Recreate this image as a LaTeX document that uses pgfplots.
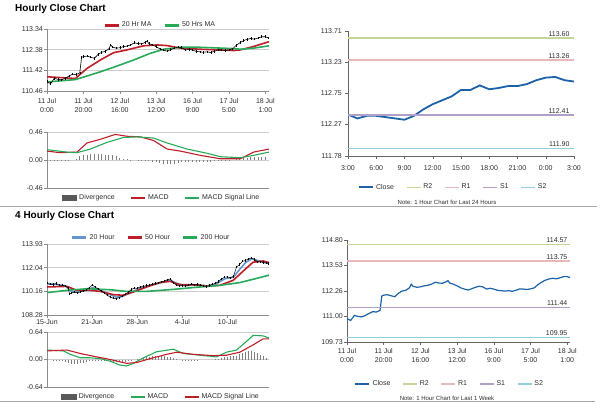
\documentclass[border=0pt]{standalone}
\usepackage{pgfplots}
\pgfplotsset{compat=1.18}
\usepackage{pgfplotstable}
\usepackage{fontspec}
\setmainfont{Liberation Sans}

\definecolor{mared}{RGB}{190,30,40}
\definecolor{magreen}{RGB}{40,170,90}
\definecolor{lblue}{RGB}{100,150,205}
\definecolor{cblue}{RGB}{28,98,168}
\definecolor{rtwo}{RGB}{196,214,150}
\definecolor{rone}{RGB}{232,184,186}
\definecolor{sone}{RGB}{176,160,200}
\definecolor{stwo}{RGB}{146,205,222}
\definecolor{gridc}{RGB}{205,205,205}
\definecolor{axc}{RGB}{140,140,140}
\definecolor{txt}{RGB}{45,45,45}

\newcommand{\fs}{\fontsize{7}{9}\selectfont}
\newcommand{\fn}{\fontsize{6}{7}\selectfont}

\pgfplotstableread{
x y
0 110.89
2 110.80
4 111.05
6 111.00
8 110.98
10 111.05
12 111.15
14 111.24
16 111.22
18 111.30
19 112.02
20 112.06
22 112.08
24 112.03
26 111.98
28 112.15
30 112.26
32 112.30
34 112.42
35 112.60
36 112.50
38 112.45
40 112.47
42 112.52
44 112.55
46 112.60
48 112.70
50 112.66
52 112.65
54 112.72
55 112.78
56 112.66
58 112.60
60 112.52
62 112.42
64 112.36
66 112.31
68 112.38
70 112.45
72 112.50
74 112.47
76 112.36
78 112.40
80 112.36
82 112.30
84 112.28
86 112.26
88 112.28
90 112.25
92 112.30
94 112.37
96 112.36
98 112.34
100 112.37
102 112.42
104 112.58
106 112.70
108 112.80
110 112.86
112 112.90
114 112.87
116 112.92
118 112.98
120 112.98
121.5 112.93
}\hourly

\pgfplotsset{
  base/.style={
    scale only axis, anchor=south west, enlargelimits=false,
    clip mode=individual,
    axis lines*=left,
    axis line style={-, draw=axc, line width=0.5pt},
    tick style={draw=axc, line width=0.5pt},
    major tick length=3pt, tick align=outside,
    ticklabel style={font=\fs, text=txt},
    yticklabel style={inner sep=1pt},
    xticklabel style={align=center, inner sep=1.5pt},
    grid style={draw=gridc, line width=0.5pt},
    legend style={font=\fs, text=txt, draw=none, fill=none, legend columns=-1,
      inner sep=0pt, /tikz/every even column/.append style={column sep=10pt}},
    legend image code/.code={\draw[##1] (0pt,0pt) -- (14pt,0pt);},
  },
}

\begin{document}
\begin{tikzpicture}
\path[use as bounding box] (0pt,0pt) rectangle (600pt,413pt);

% titles and separators
\node[anchor=west, inner sep=0pt, font=\bfseries\fontsize{10}{12}\selectfont] at (15pt,404.5pt) {Hourly Close Chart};
\node[anchor=west, inner sep=0pt, font=\bfseries\fontsize{10}{12}\selectfont] at (15pt,197pt) {4 Hourly Close Chart};
\draw[gray!70, line width=0.6pt] (0pt,206.5pt) -- (597pt,206.5pt);
\draw[gray!70, line width=0.6pt] (0pt,12pt) -- (595pt,12pt);

% ---------- Top-left: hourly price ----------
\begin{axis}[base, at={(47pt,322pt)}, width=222pt, height=62pt,
  xmin=0, xmax=122, ymin=110.46, ymax=113.34,
  ytick={110.46,111.42,112.38,113.34}, yticklabels={110.46,111.42,112.38,113.34},
  ymajorgrids,
  xtick={0,20,40,60,80,100,120},
  xticklabel style={yshift=-3pt},
  xticklabels={{11 Jul\\0:00},{11 Jul\\20:00},{12 Jul\\16:00},{13 Jul\\12:00},{16 Jul\\9:00},{17 Jul\\5:00},{18 Jul\\1:00}},
  legend image post style={line width=2.6pt},
  legend style={at={(0.51,1.06)}, anchor=center}]
\addplot[mared, line width=1.6pt] coordinates {(0,111.12) (8,111.08) (15.6,111.04) (22,111.51) (29.3,111.90) (36.6,112.24) (44,112.37) (53.1,112.56) (60.5,112.60) (66,112.57) (73.3,112.45) (84.3,112.40) (93.4,112.37) (102.6,112.34) (106.3,112.37) (113.6,112.53) (122,112.75)};
\addlegendentry{20 Hr MA}
\addplot[magreen, line width=1.6pt] coordinates {(0,110.88) (15.6,110.99) (29.3,111.35) (38.5,111.62) (47.6,111.90) (56.8,112.21) (64.1,112.40) (73.3,112.49) (84.3,112.49) (102.6,112.43) (106.3,112.40) (113.6,112.45) (122,112.56)};
\addlegendentry{50 Hrs MA}
\addplot[black, line width=0.6pt, forget plot, error bars/.cd, y dir=both, y fixed=0.06, error mark=none, error bar style={line width=0.5pt}] table[x=x,y=y] {\hourly};
\end{axis}

% ---------- Top-left: MACD ----------
\begin{axis}[base, at={(47pt,225pt)}, width=222pt, height=56pt,
  xmin=0, xmax=122, ymin=-0.46, ymax=0.46,
  ytick={-0.46,0,0.46}, yticklabels={-0.46,0.00,0.46},
  ymajorgrids, xtick=\empty,
  legend image post style={line width=1.4pt},
  legend style={at={(0.516,-0.18)}, anchor=center, /tikz/every even column/.append style={column sep=14pt}}]
\addplot[ycomb, draw=black!50, line width=0.9pt, legend image code/.code={\fill[black!65] (0pt,-2.5pt) rectangle (14pt,2.5pt);}] coordinates {
(0,-0.02) (2,-0.02) (4,-0.015) (6,-0.015) (8,-0.01) (10,-0.01) (12,-0.005) (14,0) (16,0.02) (18,0.06) (20,0.08) (22,0.09) (24,0.10) (26,0.10) (28,0.10) (30,0.10) (32,0.09) (34,0.09) (36,0.08) (38,0.06) (40,0.04) (42,0.02) (44,0.01) (46,0.005) (48,0) (50,-0.005) (52,-0.01) (54,-0.01) (56,-0.02) (58,-0.03) (60,-0.04) (62,-0.05) (64,-0.06) (66,-0.07) (68,-0.07) (70,-0.06) (72,-0.05) (74,-0.04) (76,-0.035) (78,-0.03) (80,-0.03) (82,-0.03) (84,-0.03) (86,-0.03) (88,-0.03) (90,-0.025) (92,-0.02) (94,-0.02) (96,-0.015) (98,-0.01) (100,-0.005) (102,0) (104,0.01) (106,0.02) (108,0.03) (110,0.04) (112,0.045) (114,0.05) (116,0.05) (118,0.05) (120,0.05) (122,0.045)};
\addlegendentry{Divergence}
\addplot[mared, line width=1.1pt] coordinates {(0,0.146) (7.3,0.12) (16.5,0.13) (22,0.28) (29.3,0.34) (37.5,0.42) (44,0.39) (51.3,0.38) (58.6,0.32) (66,0.18) (73.3,0.146) (84.3,0.076) (95.3,0.02) (106.3,0.02) (113.6,0.13) (122,0.18)};
\addlegendentry{MACD}
\addplot[magreen, line width=1.1pt] coordinates {(0,0.17) (11,0.13) (16.5,0.12) (23.8,0.18) (33,0.29) (42,0.37) (49.5,0.38) (58.6,0.36) (66,0.28) (77,0.18) (88,0.11) (95.3,0.054) (106.3,0.038) (113.6,0.076) (122,0.13)};
\addlegendentry{MACD Signal Line}
\end{axis}

% ---------- Top-right: 24 hours ----------
\begin{axis}[base, at={(348pt,257pt)}, width=226pt, height=125pt,
  xmin=0, xmax=24, ymin=111.78, ymax=113.71,
  axis line style={-, draw=black!60}, tick style={draw=black!60},
  ytick={111.78,112.27,112.75,113.23,113.71}, yticklabels={111.78,112.27,112.75,113.23,113.71},
  yticklabel style={xshift=-2pt},
  xtick={0,3,...,24}, xticklabels={3:00,6:00,9:00,12:00,15:00,18:00,21:00,0:00,3:00},
  xticklabel style={yshift=-5pt},
  legend style={at={(0.465,-0.25)}, anchor=center}]
\addplot[cblue, line width=1.8pt, legend image post style={line width=2.4pt}] coordinates {(0,112.42) (1,112.36) (2,112.40) (3,112.40) (4,112.38) (5,112.36) (6,112.34) (7,112.40) (8,112.50) (9,112.58) (10,112.64) (11,112.70) (12,112.80) (13,112.80) (14,112.87) (15,112.81) (16,112.83) (17,112.86) (18,112.86) (19,112.89) (20,112.95) (21,112.99) (22,113.00) (23,112.95) (24,112.93)};
\addlegendentry{Close}
\addplot[rtwo, line width=1.4pt] coordinates {(0,113.60) (24,113.60)};
\addlegendentry{R2}
\addplot[rone, line width=1.4pt] coordinates {(0,113.26) (24,113.26)};
\addlegendentry{R1}
\addplot[sone, line width=1.4pt] coordinates {(0,112.41) (24,112.41)};
\addlegendentry{S1}
\addplot[stwo, line width=1.4pt] coordinates {(0,111.90) (24,111.90)};
\addlegendentry{S2}
\node[anchor=south east, font=\fs, text=txt, inner sep=1.5pt] at (axis cs:23.7,113.60) {113.60};
\node[anchor=south east, font=\fs, text=txt, inner sep=1.5pt] at (axis cs:23.7,113.26) {113.26};
\node[anchor=south east, font=\fs, text=txt, inner sep=1.5pt] at (axis cs:23.7,112.41) {112.41};
\node[anchor=south east, font=\fs, text=txt, inner sep=1.5pt] at (axis cs:23.7,111.90) {111.90};
\end{axis}
\node[font=\fn, text=txt] at (447pt,211pt) {Note: 1 Hour Chart for Last 24 Hours};

% ---------- Bottom-left: 4 hourly price ----------
\begin{axis}[base, at={(47pt,98pt)}, width=222pt, height=71pt,
  xmin=0, xmax=147.6, ymin=108.28, ymax=113.93,
  ytick={108.28,110.16,112.04,113.93}, yticklabels={108.28,110.16,112.04,113.93},
  ymajorgrids,
  xtick={0,30,60,90,120}, xticklabels={15-Jun,21-Jun,28-Jun,4-Jul,10-Jul},
  legend image post style={line width=2.6pt},
  legend style={at={(0.47,1.09)}, anchor=center}]
\addplot[lblue, line width=1.6pt] coordinates {(0,110.78) (6,110.72) (12,110.60) (16,110.20) (20,110.10) (26,110.25) (30,110.45) (34,110.35) (40,110.00) (46,109.70) (50,109.75) (56,110.10) (62,110.40) (70,110.68) (78,110.92) (82,111.05) (86,110.80) (92,110.62) (100,110.68) (106,110.60) (112,110.72) (118,111.15) (124,111.30) (128,111.90) (132,112.45) (136,112.75) (140,112.62) (144,112.48) (147,112.42)};
\addlegendentry{20 Hour}
\addplot[mared, line width=1.6pt] coordinates {(0,110.51) (13.3,110.56) (19.9,110.24) (28.7,110.24) (35.4,110.16) (44.2,109.90) (50.8,109.85) (57.5,110.11) (66.3,110.51) (75.1,110.86) (81.8,110.96) (88.4,110.69) (97.2,110.69) (106.1,110.59) (114.9,110.64) (123.8,111.04) (130.4,111.77) (137,112.48) (143.7,112.58) (147.6,112.45)};
\addlegendentry{50 Hour}
\addplot[magreen, line width=1.6pt] coordinates {(0,110.06) (13.3,110.24) (26.5,110.37) (42,110.29) (53,110.16) (66.3,110.16) (84,110.32) (101.7,110.51) (114.9,110.64) (128.2,110.86) (137,111.12) (147.6,111.45)};
\addlegendentry{200 Hour}
\addplot[black, line width=0.5pt, forget plot, error bars/.cd, y dir=both, y fixed=0.09, error mark=none, error bar style={line width=0.5pt}] coordinates {
(0,110.80) (2,110.72) (4,110.70) (6,110.78) (8,110.66) (10,110.64) (12,110.60) (14,110.45) (15,109.95) (16,110.02) (18,110.10) (20,110.05) (22,110.12) (24,110.20) (26,110.28) (28,110.45) (30,110.68) (32,110.50) (34,110.34) (36,110.20) (38,110.05) (40,109.85) (42,109.72) (44,109.62) (46,109.58) (48,109.66) (50,109.80) (52,109.95) (54,110.08) (56,110.30) (58,110.42) (60,110.40) (62,110.52) (64,110.55) (66,110.62) (68,110.66) (70,110.72) (72,110.78) (74,110.85) (76,110.92) (78,110.98) (80,111.08) (82,111.15) (84,110.85) (86,110.66) (88,110.60) (90,110.62) (92,110.58) (94,110.66) (96,110.72) (98,110.68) (100,110.70) (102,110.64) (104,110.58) (106,110.55) (108,110.62) (110,110.72) (112,110.80) (114,110.95) (116,111.15) (118,111.28) (120,111.32) (122,111.25) (124,111.35) (126,112.10) (128,112.30) (130,112.55) (132,112.62) (134,112.75) (136,112.82) (138,112.70) (140,112.50) (142,112.52) (144,112.45) (146,112.40) (147,112.38)};
\end{axis}

% ---------- Bottom-left: MACD ----------
\begin{axis}[base, at={(47pt,26pt)}, width=222pt, height=55pt,
  xmin=0, xmax=147.6, ymin=-0.64, ymax=0.64,
  ytick={-0.64,0,0.64}, yticklabels={-0.64,0.00,0.64},
  ymajorgrids, xtick=\empty,
  legend image post style={line width=1.4pt},
  legend style={at={(0.514,-0.18)}, anchor=center, /tikz/every even column/.append style={column sep=14pt}}]
\addplot[ycomb, draw=black!50, line width=0.9pt, legend image code/.code={\fill[black!65] (0pt,-2.5pt) rectangle (14pt,2.5pt);}] coordinates {
(0,0.01) (2,0.0) (4,-0.01) (6,-0.01) (8,-0.01) (10,-0.02) (12,-0.05) (14,-0.08) (16,-0.10) (18,-0.10) (20,-0.10) (22,-0.09) (24,-0.07) (26,-0.05) (28,-0.03) (30,-0.02) (32,-0.02) (34,-0.02) (36,-0.02) (38,-0.03) (40,-0.04) (42,-0.04) (44,-0.05) (46,-0.06) (48,-0.06) (50,-0.06) (52,-0.05) (54,-0.03) (56,-0.01) (58,0.0) (60,0.01) (62,0.02) (64,0.03) (66,0.05) (68,0.06) (70,0.07) (72,0.08) (74,0.08) (76,0.08) (78,0.07) (80,0.06) (82,0.05) (84,0.04) (86,0.02) (88,0.0) (90,-0.01) (92,-0.01) (94,-0.01) (96,-0.01) (98,-0.01) (100,-0.01) (102,0.0) (104,0.0) (106,0.0) (108,0.0) (110,0.0) (112,0.01) (114,0.02) (116,0.03) (118,0.05) (120,0.06) (122,0.07) (124,0.08) (126,0.09) (128,0.12) (130,0.15) (132,0.18) (134,0.20) (136,0.20) (138,0.18) (140,0.14) (142,0.10) (144,0.07) (146,0.04)};
\addlegendentry{Divergence}
\addplot[magreen, line width=1.1pt] coordinates {(0,0.22) (11,0.20) (15.5,0.12) (22.1,0.04) (28.7,0.04) (35.4,0.02) (42,-0.04) (48.6,-0.13) (53,-0.15) (57.5,-0.09) (64.1,0.04) (72.9,0.18) (84,0.24) (90.6,0.14) (101.7,0.10) (112.7,0.06) (119.3,0.17) (126,0.22) (132.6,0.42) (137,0.56) (143.7,0.55) (147.6,0.50)};
\addlegendentry{MACD}
\addplot[mared, line width=1.1pt] coordinates {(0,0.20) (13.3,0.22) (22.1,0.14) (33.2,0.06) (42,0.0) (53,-0.09) (59.7,-0.07) (68.5,0.02) (79.6,0.12) (86.2,0.17) (97.2,0.12) (110.5,0.09) (119.3,0.10) (128.2,0.17) (137,0.34) (143.7,0.48) (147.6,0.48)};
\addlegendentry{MACD Signal Line}
\end{axis}

% ---------- Bottom-right: 1 week ----------
\begin{axis}[base, at={(347pt,71pt)}, width=223pt, height=102pt,
  xmin=0, xmax=121.5, ymin=109.73, ymax=114.80,
  axis line style={-, draw=black!60}, tick style={draw=black!60},
  ytick={109.73,111.00,112.26,113.53,114.80}, yticklabels={109.73,111.00,112.26,113.53,114.80},
  xtick={0,20,40,60,80,100,120},
  xticklabel style={yshift=-2pt},
  xticklabels={{11 Jul\\0:00},{11 Jul\\20:00},{12 Jul\\16:00},{13 Jul\\12:00},{16 Jul\\9:00},{17 Jul\\5:00},{18 Jul\\1:00}},
  legend style={at={(0.46,-0.41)}, anchor=center}]
\addplot[cblue, line width=1.2pt, legend image post style={line width=2.4pt}] table[x=x,y=y] {\hourly};
\addlegendentry{Close}
\addplot[rtwo, line width=1.4pt] coordinates {(0,114.57) (121.5,114.57)};
\addlegendentry{R2}
\addplot[rone, line width=1.4pt] coordinates {(0,113.75) (121.5,113.75)};
\addlegendentry{R1}
\addplot[sone, line width=1.4pt] coordinates {(0,111.44) (121.5,111.44)};
\addlegendentry{S1}
\addplot[stwo, line width=1.4pt] coordinates {(0,109.95) (121.5,109.95)};
\addlegendentry{S2}
\node[anchor=south east, font=\fs, text=txt, inner sep=1.5pt] at (axis cs:121,114.57) {114.57};
\node[anchor=south east, font=\fs, text=txt, inner sep=1.5pt] at (axis cs:121,113.75) {113.75};
\node[anchor=south east, font=\fs, text=txt, inner sep=1.5pt] at (axis cs:121,111.44) {111.44};
\node[anchor=south east, font=\fs, text=txt, inner sep=1.5pt] at (axis cs:121,109.95) {109.95};
\end{axis}
\node[font=\fn, text=txt] at (447pt,15pt) {Note: 1 Hour Chart for Last 1 Week};

\end{tikzpicture}
\end{document}
